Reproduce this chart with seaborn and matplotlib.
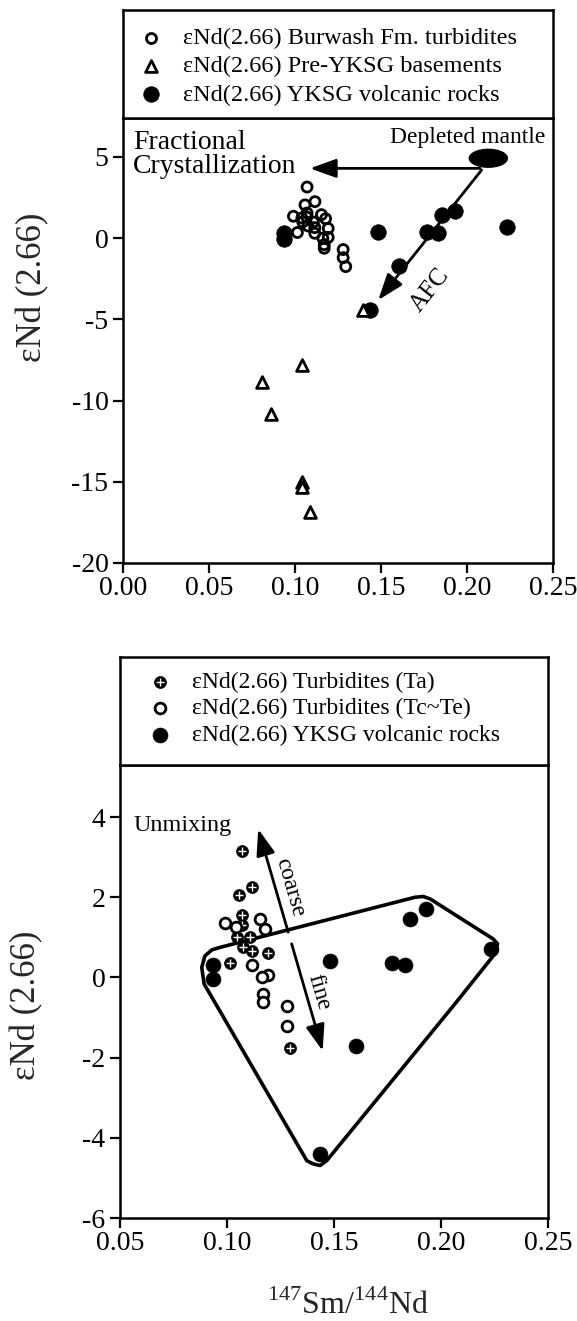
import matplotlib
matplotlib.use("Agg")
import matplotlib.pyplot as plt
import seaborn as sns
import pandas as pd
from matplotlib.patches import Ellipse, Polygon
from matplotlib.legend_handler import HandlerTuple
from matplotlib.ticker import FormatStrFormatter

# ---- data: 147Sm/144Nd (x) and eNd(2.66) (y) ----
# Burwash Fm. turbidites, coarse Ta division
ta_x = [0.107, 0.1116, 0.1058, 0.107, 0.1045, 0.1107, 0.1076, 0.1115, 0.1193, 0.1014, 0.1069, 0.1295]
ta_y = [3.15, 2.25, 2.05, 1.55, 1.0, 1.0, 0.75, 0.65, 0.6, 0.35, 1.3, -1.75]
# Burwash Fm. turbidites, fine Tc-Te divisions
tcte_x = [0.0991, 0.1154, 0.1178, 0.1115, 0.1193, 0.1162, 0.117, 0.117, 0.128, 0.128, 0.104]
tcte_y = [1.35, 1.45, 1.2, 0.3, 0.05, 0.0, -0.4, -0.62, -0.7, -1.2, 1.25]
# Yellowknife Supergroup (YKSG) volcanic rocks
volc_x = [0.0935, 0.0935, 0.148, 0.1605, 0.177, 0.183, 0.1855, 0.193, 0.2235, 0.1435]
volc_y = [0.3, -0.05, 0.4, -1.7, 0.35, 0.3, 1.45, 1.7, 0.7, -4.4]
# Pre-YKSG basements
base_x = [0.1042, 0.0806, 0.0859, 0.1042, 0.1039, 0.1087, 0.1397]
base_y = [-7.8, -8.85, -10.8, -15.0, -15.3, -16.85, -4.4]
# outline of the volcanic field
hull_x = [0.1878, 0.1917, 0.1949, 0.2244, 0.2264, 0.2252, 0.2065, 0.1466, 0.1435,
          0.1402, 0.1373, 0.0893, 0.0882, 0.0897, 0.093, 0.0967]
hull_y = [2.0, 2.02, 1.96, 0.96, 0.84, 0.59, -0.66, -4.57, -4.69,
          -4.65, -4.57, -0.16, 0.25, 0.54, 0.69, 0.75]

top_xticks = [0.00, 0.05, 0.10, 0.15, 0.20, 0.25]
top_yticks = [-20, -15, -10, -5, 0, 5]
bot_xticks = [0.05, 0.10, 0.15, 0.20, 0.25]
bot_yticks = [-6, -4, -2, 0, 2, 4]

lab_burwash = "εNd(2.66) Burwash Fm. turbidites"
lab_base = "εNd(2.66) Pre-YKSG basements"
lab_volc = "εNd(2.66) YKSG volcanic rocks"
lab_ta = "εNd(2.66) Turbidites (Ta)"
lab_tcte = "εNd(2.66) Turbidites (Tc~Te)"

sns.set_theme(style="ticks")
plt.rcParams.update({
    "axes.linewidth": 1.8,
    "axes.edgecolor": "black",
    "xtick.major.width": 1.6,
    "ytick.major.width": 1.6,
    "xtick.major.size": 7.5,
    "ytick.major.size": 7.5,
    "xtick.direction": "out",
    "ytick.direction": "out",
    "xtick.color": "black",
    "ytick.color": "black",
    "xtick.labelsize": 20,
    "ytick.labelsize": 20,
    "xtick.major.pad": 2,
    "ytick.major.pad": 3,
    "axes.unicode_minus": False,
    "mathtext.fontset": "custom",
    "mathtext.rm": "Liberation Serif",
    "text.color": "black",
})
plt.rcParams["font.family"] = ["Liberation Serif", "DejaVu Serif"]

W, H = 577, 1321
fig = plt.figure(figsize=(W / 100, H / 100), dpi=100)
fig.patch.set_facecolor("white")


def box(l, t, r, b):
    return [l / W, 1 - b / H, (r - l) / W, (b - t) / H]


ax1 = fig.add_axes(box(123, 118, 553, 563))
lg1 = fig.add_axes(box(123, 10, 553, 118))
ax2 = fig.add_axes(box(120, 765, 548, 1218))
lg2 = fig.add_axes(box(120, 657, 548, 765))

for a in (lg1, lg2):
    a.set_xticks([])
    a.set_yticks([])
    a.set_facecolor("white")
    for s in a.spines.values():
        s.set_linewidth(1.8)
        s.set_color("black")

for a in (ax1, ax2):
    a.set_facecolor("white")
    for s in a.spines.values():
        s.set_visible(True)
        s.set_linewidth(1.8)
        s.set_color("black")

# ---------------- upper panel ----------------
turb_all = pd.DataFrame({"x": ta_x + tcte_x, "y": ta_y + tcte_y})
volc = pd.DataFrame({"x": volc_x, "y": volc_y})
base = pd.DataFrame({"x": base_x, "y": base_y})

sns.scatterplot(data=volc, x="x", y="y", ax=ax1, marker="o", color="black",
                edgecolor="black", s=125, linewidth=0.5, legend=False, zorder=3)
h_volc1 = ax1.collections[-1]
sns.scatterplot(data=turb_all, x="x", y="y", ax=ax1, marker="o", color="white",
                edgecolor="black", s=52, linewidth=2.0, legend=False, zorder=4)
h_turb1 = ax1.collections[-1]
h_turb1.set_facecolor("none")
sns.scatterplot(data=base, x="x", y="y", ax=ax1, marker="^", color="white",
                edgecolor="black", s=72, linewidth=2.0, legend=False, zorder=4)
h_base1 = ax1.collections[-1]

ax1.add_patch(Ellipse((0.2124, 4.92), 0.0221, 1.1, facecolor="black",
                      edgecolor="black", zorder=5))
arrow_kw = dict(arrowstyle="-|>,head_length=1.0,head_width=0.36", mutation_scale=16,
                lw=2.0, color="black", shrinkA=0, shrinkB=0)
ax1.annotate("", xy=(0.1087, 4.30), xytext=(0.2076, 4.30), arrowprops=arrow_kw, zorder=5)
ax1.annotate("", xy=(0.1484, -3.81), xytext=(0.2085, 4.2), arrowprops=arrow_kw, zorder=5)
ax1.text(0.2003, 6.17, "Depleted mantle", fontsize=17, ha="center", va="center")
ax1.text(0.0058, 5.18, "Fractional\nCrystallization", fontsize=20, ha="left",
         va="center", linespacing=0.95)
ax1.text(0.1785, -3.19, "AFC", fontsize=18, ha="center", va="center", rotation=51.6)

ax1.set_xlim(0.0, 0.25)
ax1.set_ylim(-20, 7.4)
ax1.set_xticks(top_xticks)
ax1.set_yticks(top_yticks)
ax1.xaxis.set_major_formatter(FormatStrFormatter("%.2f"))
ax1.set_xlabel("")
ax1.set_ylabel("εNd (2.66)", fontsize=25)
ax1.yaxis.label.set_va("center")
ax1.yaxis.set_label_coords(-0.209, 0.62)

lg1.legend([h_turb1, h_base1, h_volc1], [lab_burwash, lab_base, lab_volc],
           loc="center left", bbox_to_anchor=(0.037, 0.477), bbox_transform=lg1.transAxes,
           frameon=False, fontsize=17.5, handlelength=1.0, handletextpad=0.82,
           labelspacing=0.26, borderaxespad=0, borderpad=0, scatterpoints=1)
lg1.get_legend().legend_handles[0].set_facecolor("white")

# ---------------- lower panel ----------------
ta = pd.DataFrame({"x": ta_x, "y": ta_y})
tcte = pd.DataFrame({"x": tcte_x, "y": tcte_y})

ax2.add_patch(Polygon(list(zip(hull_x, hull_y)), closed=True, fill=False,
                      edgecolor="black", lw=2.6, joinstyle="round", zorder=2))

sns.scatterplot(data=volc, x="x", y="y", ax=ax2, marker="o", color="black",
                edgecolor="black", s=115, linewidth=0.5, legend=False, zorder=3)
h_volc2 = ax2.collections[-1]
sns.scatterplot(data=ta, x="x", y="y", ax=ax2, marker="o", color="black",
                edgecolor="black", s=74, linewidth=0.5, legend=False, zorder=4)
h_ta_c = ax2.collections[-1]
sns.scatterplot(data=ta, x="x", y="y", ax=ax2, marker="+", color="white",
                s=26, linewidth=1.0, legend=False, zorder=5)
h_ta_p = ax2.collections[-1]
sns.scatterplot(data=tcte, x="x", y="y", ax=ax2, marker="o", color="white",
                edgecolor="black", s=60, linewidth=2.0, legend=False, zorder=6)
h_tcte = ax2.collections[-1]

ax2.annotate("", xy=(0.1146, 3.70), xytext=(0.1286, 1.13), arrowprops=arrow_kw, zorder=7)
ax2.annotate("", xy=(0.1447, -1.83), xytext=(0.1302, 0.84), arrowprops=arrow_kw, zorder=7)
ax2.text(0.0561, 3.79, "Unmixing", fontsize=17.5, ha="left", va="center")
ax2.text(0.1294, 2.25, "coarse", fontsize=17, ha="center", va="center", rotation=-73.8)
ax2.text(0.1427, -0.37, "fine", fontsize=17, ha="center", va="center", rotation=-73.8)

ax2.set_xlim(0.05, 0.25)
ax2.set_ylim(-6, 5.3)
ax2.set_xticks(bot_xticks)
ax2.set_yticks(bot_yticks)
ax2.xaxis.set_major_formatter(FormatStrFormatter("%.2f"))
ax2.set_xlabel(r"$^{147}\mathrm{Sm}/^{144}\mathrm{Nd}$", fontsize=23)
ax2.xaxis.label.set_va("center")
ax2.xaxis.set_label_coords(0.533, -0.192)
ax2.set_ylabel("εNd (2.66)", fontsize=25)
ax2.yaxis.label.set_va("center")
ax2.yaxis.set_label_coords(-0.217, 0.47)

lg2.legend([(h_ta_c, h_ta_p), h_tcte, h_volc2], [lab_ta, lab_tcte, lab_volc],
           loc="center left", bbox_to_anchor=(0.066, 0.523), bbox_transform=lg2.transAxes,
           frameon=False, fontsize=17, handlelength=1.0, handletextpad=0.86,
           labelspacing=0.21, borderaxespad=0, borderpad=0, scatterpoints=1,
           handler_map={tuple: HandlerTuple(ndivide=1)})

fig.savefig("out.png", dpi=100, facecolor="white")
